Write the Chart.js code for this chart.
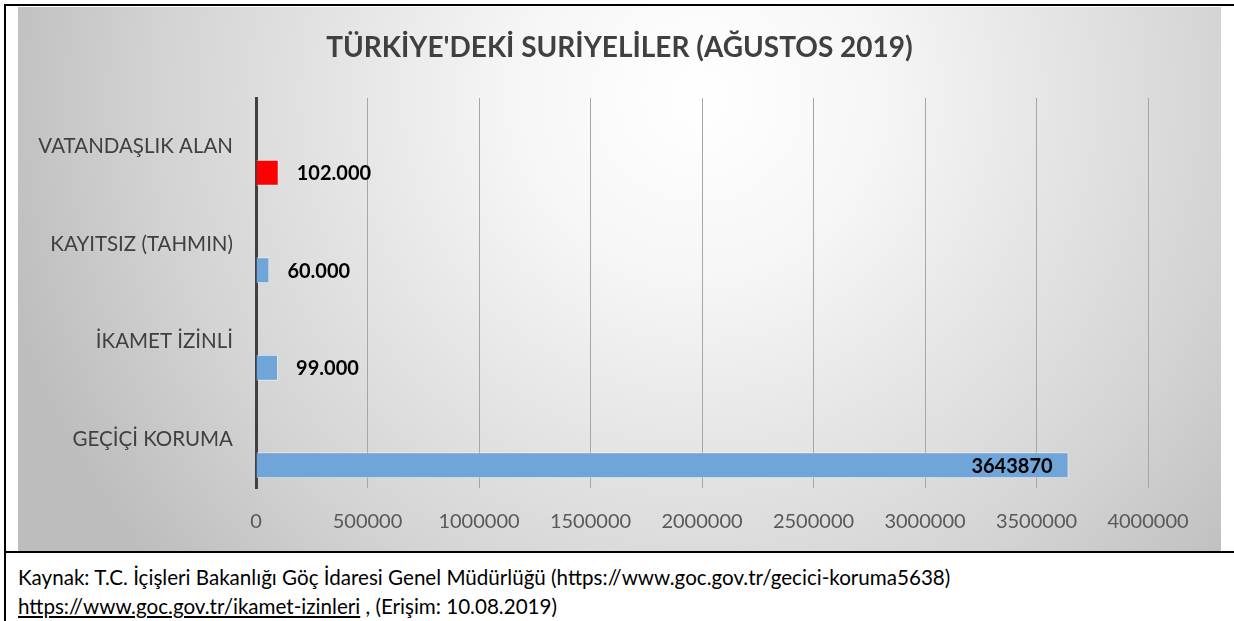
<!DOCTYPE html>
<html lang="tr">
<head>
<meta charset="utf-8">
<title>Türkiye'deki Suriyeliler</title>
<script src="https://cdn.jsdelivr.net/npm/chart.js@4.4.1/dist/chart.umd.min.js"></script>
<style>
  body { margin: 0; background: #fff; width: 1234px; height: 621px; position: relative; overflow: hidden; }
  .line { position: absolute; background: #000; }
  #chart-wrap { position: absolute; left: 18px; top: 7px; width: 1203px; height: 544px; }
  #note { position: absolute; left: 18px; top: 563px; font-family: Lato, sans-serif; font-size: 20.6px; color: #000; line-height: 29px; }
  #note u { text-decoration: underline; }
</style>
</head>
<body>
<div class="line" style="left:4px;top:4px;width:1230px;height:2px"></div>
<div class="line" style="left:4px;top:4px;width:2px;height:617px"></div>
<div class="line" style="left:4px;top:551px;width:1230px;height:2px"></div>
<div id="chart-wrap"><canvas id="syria-chart" width="1203" height="544"></canvas></div>
<div id="note">
  Kaynak: T.C. İçişleri Bakanlığı Göç İdaresi Genel Müdürlüğü (https://www.goc.gov.tr/gecici-koruma5638)<br>
  <u>https://www.goc.gov.tr/ikamet-izinleri</u> , (Erişim: 10.08.2019)
</div>
<script>
const chartTitle = "TÜRKİYE'DEKİ SURİYELİLER (AĞUSTOS 2019)";
const categories = ["VATANDAŞLIK ALAN", "KAYITSIZ (TAHMIN)", "İKAMET İZİNLİ", "GEÇİÇİ KORUMA"];
const values = [102000, 60000, 99000, 3643870];
const valueLabels = ["102.000", "60.000", "99.000", "3643870"];
const barColors = ["#ff0000", "#6fa5d8", "#6fa5d8", "#6fa5d8"];
// Excel chart had an empty first series, bars sit in the second slot
const emptySeries = [null, null, null, null];
const xTicks = [0, 500000, 1000000, 1500000, 2000000, 2500000, 3000000, 3500000, 4000000];

const bgPlugin = {
  id: "bgGradient",
  beforeDraw(chart) {
    const ctx = chart.ctx;
    const w = chart.width, h = chart.height;
    const g = ctx.createRadialGradient(680, 90, 0, 680, 90, 720);
    g.addColorStop(0, "#ffffff");
    g.addColorStop(0.25, "#f6f6f6");
    g.addColorStop(0.75, "#d3d3d3");
    g.addColorStop(1, "#bdbdbd");
    ctx.save();
    ctx.fillStyle = g;
    ctx.fillRect(0, 0, w, h);
    // title centred on the whole picture, not the padded layout box
    ctx.font = "bold 28px Lato, sans-serif";
    ctx.fillStyle = "#404040";
    ctx.textAlign = "center";
    ctx.textBaseline = "middle";
    ctx.fillText(chartTitle, w / 2, 41);
    ctx.restore();
  }
};

const labelPlugin = {
  id: "valueLabels",
  afterDatasetsDraw(chart) {
    const ctx = chart.ctx;
    const meta = chart.getDatasetMeta(1);
    ctx.save();
    ctx.font = "bold 20px Lato, sans-serif";
    ctx.fillStyle = "#000";
    ctx.textBaseline = "middle";
    meta.data.forEach(function (bar, i) {
      if (values[i] > 1000000) {
        ctx.textAlign = "right";
        ctx.fillText(valueLabels[i], bar.x - 16, bar.y + 1);
      } else {
        ctx.textAlign = "left";
        ctx.fillText(valueLabels[i], bar.x + 18, bar.y + 1);
      }
    });
    ctx.restore();
  }
};

document.addEventListener("DOMContentLoaded", function () {
  const ctx = document.getElementById("syria-chart").getContext("2d");
  new Chart(ctx, {
    type: "bar",
    data: {
      labels: categories,
      datasets: [
        { label: "", data: emptySeries, backgroundColor: "transparent" },
        {
          label: "Suriyeliler",
          data: values,
          backgroundColor: barColors,
          borderColor: "rgba(255,255,255,0.55)",
          borderWidth: 1,
        },
      ],
    },
    options: {
      responsive: false,
      animation: false,
      indexAxis: "y",
      categoryPercentage: 1.07,
      barPercentage: 0.5,
      layout: { padding: { left: 0, right: 73, top: 91, bottom: 0 } },
      plugins: {
        legend: { display: false },
        tooltip: { enabled: false },
        title: { display: false },
      },
      scales: {
        x: {
          min: 0,
          max: 4000000,
          afterBuildTicks: function (scale) {
            scale.ticks = xTicks.map((v) => ({ value: v }));
          },
          afterFit: function (scale) { scale.height = 63; },
          grid: { color: "#a6a6a6", lineWidth: 1, drawTicks: false },
          border: { display: false },
          ticks: {
            color: "#595959",
            padding: 22,
            maxRotation: 0,
            font: { family: "Lato, sans-serif", size: 20 },
            callback: (value) => String(value),
          },
        },
        y: {
          afterFit: function (scale) { scale.width = 238; },
          grid: { display: false },
          border: { display: true, color: "#404040", width: 3 },
          ticks: {
            color: "#404040",
            padding: 15,
            font: { family: "Lato, sans-serif", size: 20.5 },
          },
        },
      },
    },
    plugins: [bgPlugin, labelPlugin],
  });
});
</script>
</body>
</html>
